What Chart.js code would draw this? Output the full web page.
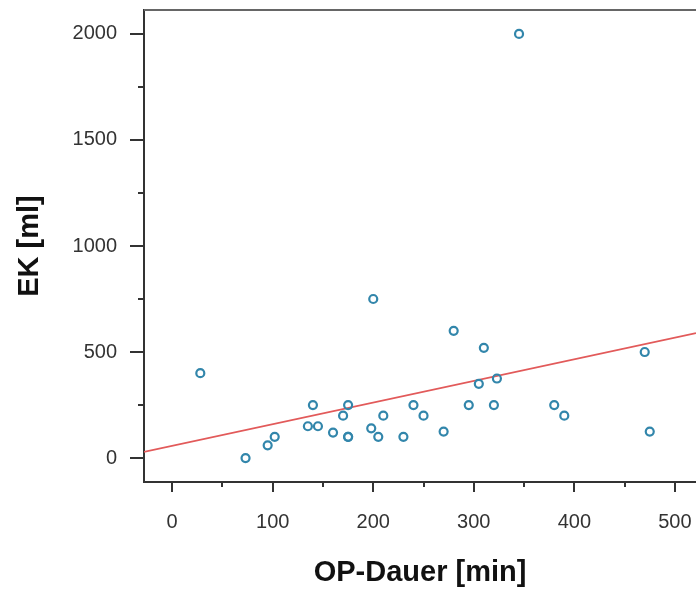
<!DOCTYPE html>
<html><head><meta charset="utf-8">
<script src="https://cdn.jsdelivr.net/npm/chart.js@4/dist/chart.umd.min.js"></script>
<style>html,body{margin:0;padding:0;background:#fff}#wrap{width:696px;height:589px;position:relative}</style>
</head><body><div id="wrap"><canvas id="c" width="696" height="589"></canvas></div>
<script>
const opDauer = [28,73,95,102,135,140,145,160,170,175,175,175,198,200,205,210,230,240,250,270,280,295,305,310,320,323,345,380,390,470,475];
const ek      = [400,0,60,100,150,250,150,120,200,250,100,100,140,750,100,200,100,250,200,125,600,250,350,520,250,375,2000,250,200,500,125];
const fitX = [-28, 521];
const fitY = [29, 589];
const xTicks = [0,100,200,300,400,500];
const xMinor = [50,150,250,350,450];
const yTicks = [0,500,1000,1500,2000];
const yMinor = [250,750,1250,1750];
const xRange = [-28, 521];
const yRange = [-113, 2113];

const FONT = "'Liberation Sans', Arial, sans-serif";

const tickPlugin = {
  id: 'manualTicks',
  afterDraw(chart) {
    const {ctx, chartArea: a, scales: {x, y}} = chart;
    ctx.save();
    ctx.strokeStyle = '#333';
    ctx.lineWidth = 2;
    ctx.beginPath();
    xTicks.forEach(v => { const p = Math.round(x.getPixelForValue(v)); ctx.moveTo(p, a.bottom); ctx.lineTo(p, a.bottom + 10); });
    xMinor.forEach(v => { const p = Math.round(x.getPixelForValue(v)); ctx.moveTo(p, a.bottom); ctx.lineTo(p, a.bottom + 5); });
    yTicks.forEach(v => { const p = Math.round(y.getPixelForValue(v)); ctx.moveTo(a.left, p); ctx.lineTo(a.left - 14, p); });
    yMinor.forEach(v => { const p = Math.round(y.getPixelForValue(v)); ctx.moveTo(a.left, p); ctx.lineTo(a.left - 6, p); });
    ctx.stroke();
    ctx.strokeStyle = '#666';
    ctx.beginPath();
    ctx.moveTo(a.left, a.top); ctx.lineTo(a.right, a.top);
    ctx.stroke();
    ctx.restore();
  }
};

const zeroPad = s => { s.paddingLeft = 0; s.paddingRight = 0; s.paddingTop = 0; s.paddingBottom = 0; };

const points = opDauer.map((v, i) => ({x: v, y: ek[i]}));
const fitLine = fitX.map((v, i) => ({x: v, y: fitY[i]}));

new Chart(document.getElementById('c'), {
  type: 'scatter',
  data: {
    datasets: [
      {
        type: 'line',
        data: fitLine,
        borderColor: '#e25a5a',
        borderWidth: 1.6,
        pointRadius: 0,
        fill: false,
        order: 2
      },
      {
        data: points,
        pointStyle: 'circle',
        pointRadius: 4,
        pointBorderWidth: 2.2,
        borderColor: '#3286ab',
        backgroundColor: 'rgba(255,255,255,0)',
        order: 1
      }
    ]
  },
  options: {
    responsive: false,
    animation: false,
    events: [],
    layout: {autoPadding: false, padding: {top: 10, right: 0, bottom: 0, left: 0}},
    plugins: {legend: {display: false}, tooltip: {enabled: false}},
    scales: {
      x: {
        type: 'linear',
        min: xRange[0], max: xRange[1],
        afterBuildTicks: s => { s.ticks = xTicks.map(v => ({value: v})); },
        afterFit: s => { s.height = 107; zeroPad(s); },
        grid: {display: false, drawTicks: false},
        border: {display: true, color: '#333', width: 2},
        ticks: {padding: 28, color: '#333', font: {family: FONT, size: 20}, maxRotation: 0, autoSkip: false, callback: v => String(v)},
        title: {display: true, text: 'OP-Dauer [min]', color: '#111', font: {family: FONT, size: 29, weight: 'bold', lineHeight: 1.1}, padding: {top: 0, bottom: 0}}
      },
      y: {
        type: 'linear',
        min: yRange[0], max: yRange[1],
        afterBuildTicks: s => { s.ticks = yTicks.map(v => ({value: v})); },
        afterFit: s => { s.width = 144; zeroPad(s); },
        grid: {display: false, drawTicks: false},
        border: {display: true, color: '#333', width: 2},
        ticks: {padding: 27, color: '#333', font: {family: FONT, size: 20}, autoSkip: false, callback: v => String(v)},
        title: {display: true, text: 'EK [ml]', color: '#111', font: {family: FONT, size: 29, weight: 'bold'}, padding: {top: 13, bottom: 0}}
      }
    }
  },
  plugins: [tickPlugin]
});
</script>
</body></html>
